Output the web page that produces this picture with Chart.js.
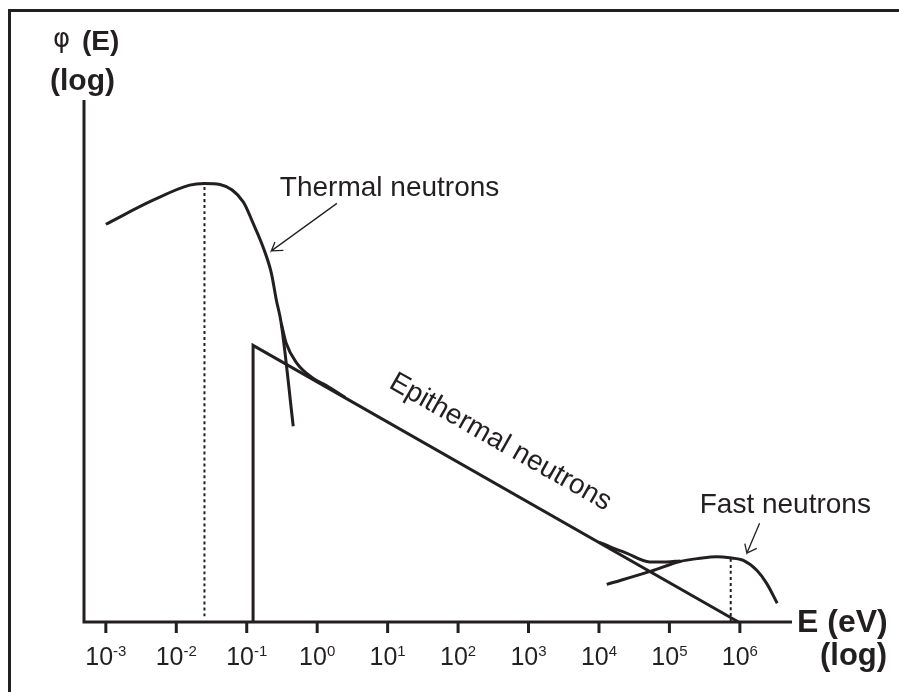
<!DOCTYPE html>
<html>
<head>
<meta charset="utf-8">
<script src="https://cdn.jsdelivr.net/npm/chart.js@4"></script>
<style>
  html, body { margin: 0; padding: 0; background: #fff; }
  canvas { display: block; }
</style>
</head>
<body>
<canvas id="spectrumChart" width="899" height="692"></canvas>
<script>
// x = log10(E / eV), y = log flux in arbitrary units (schematic)
const tickExponents = [-3, -2, -1, 0, 1, 2, 3, 4, 5, 6];

const thermalLogE = [-3.0, -2.33, -1.81, -1.60, -1.38, -1.05, -0.91, -0.77, -0.65, -0.58, -0.51, -0.34];
const thermalFlux = [7.62, 8.08, 8.37, 8.40, 8.38, 8.05, 7.64, 7.19, 6.68, 6.17, 5.72, 3.75];

const thermalJoinLogE = [-0.51, -0.44, -0.29, -0.06, 0.13, 0.40];
const thermalJoinFlux = [5.72, 5.34, 4.96, 4.67, 4.53, 4.30];

const epithermalLogE = [-0.91, -0.91, 5.98];
const epithermalFlux = [0, 5.30, 0];

const fastJoinLogE = [4.00, 4.16, 4.39, 4.72, 4.96, 5.15];
const fastJoinFlux = [1.53, 1.44, 1.32, 1.15, 1.15, 1.17];

const fastLogE = [4.11, 4.75, 5.15, 5.43, 5.67, 5.86, 6.05, 6.24, 6.38, 6.53];
const fastFlux = [0.72, 0.98, 1.16, 1.22, 1.25, 1.23, 1.18, 0.99, 0.74, 0.36];

// dotted markers at the two maxima (thermal ~0.025 eV, fast ~0.7 MeV)
const thermalPeakLogE = [-1.60, -1.60];
const thermalPeakFlux = [0.11, 8.40];
const fastPeakLogE = [5.87, 5.87];
const fastPeakFlux = [0, 1.23];

// annotation arrows: shaft start, tip, wing, tip, wing
const thermalArrowLogE = [0.28, -0.65, -0.60, -0.65, -0.48];
const thermalArrowFlux = [8.02, 7.11, 7.28, 7.11, 7.12];
const fastArrowLogE = [6.28, 6.10, 6.07, 6.10, 6.24];
const fastArrowFlux = [1.89, 1.32, 1.50, 1.32, 1.41];

const labelTexts = ['Thermal neutrons', 'Epithermal neutrons', 'Fast neutrons'];
const labelLogE = [-0.53, 1.00, 5.43];
const labelFlux = [8.16, 4.50, 2.08];

const INK = '#231f20';
const FONT = '"Liberation Sans", Arial, sans-serif';

function pts(xs, ys) {
    return xs.map((x, i) => ({ x, y: ys[i] }));
}

function curve(xs, ys, extra) {
    return Object.assign({
        data: pts(xs, ys),
        borderColor: INK,
        borderWidth: 3,
        pointRadius: 0,
        fill: false,
        tension: 0.4,
        cubicInterpolationMode: 'monotone',
        clip: false
    }, extra || {});
}

const decorPlugin = {
    id: 'decor',
    beforeDraw(chart) {
        const ctx = chart.ctx;
        ctx.save();
        ctx.fillStyle = '#fff';
        ctx.fillRect(0, 0, chart.width, chart.height);
        // frame (only top and left edges are inside the picture)
        ctx.strokeStyle = INK;
        ctx.lineWidth = 3;
        ctx.strokeRect(9.5, 10.5, 1000, 1000);
        ctx.restore();
    },
    afterDraw(chart) {
        const ctx = chart.ctx;
        const area = chart.chartArea;
        const xs = chart.scales.x;
        ctx.save();
        ctx.strokeStyle = INK;
        ctx.fillStyle = INK;
        ctx.lineWidth = 3;
        ctx.lineCap = 'butt';

        // axes
        ctx.beginPath();
        ctx.moveTo(area.left, area.top);
        ctx.lineTo(area.left, area.bottom);
        ctx.lineTo(area.right, area.bottom);
        ctx.stroke();

        // ticks and 10^n labels
        tickExponents.forEach(n => {
            const px = xs.getPixelForValue(n);
            ctx.beginPath();
            ctx.moveTo(px, area.bottom);
            ctx.lineTo(px, area.bottom + 11);
            ctx.stroke();

            ctx.font = '25px ' + FONT;
            const base = '10';
            const wBase = ctx.measureText(base).width;
            ctx.font = '15px ' + FONT;
            const exp = String(n);
            const wExp = ctx.measureText(exp).width;
            const start = px - (wBase + wExp) / 2;
            ctx.textBaseline = 'alphabetic';
            ctx.textAlign = 'left';
            ctx.font = '25px ' + FONT;
            ctx.fillText(base, start, area.bottom + 43);
            ctx.font = '15px ' + FONT;
            ctx.fillText(exp, start + wBase, area.bottom + 34);
        });

        // axis titles
        ctx.textAlign = 'left';
        ctx.font = '26px "DejaVu Sans", sans-serif';
        ctx.fillText('\u03c6', 53, 47);
        ctx.font = 'bold 28px ' + FONT;
        ctx.fillText('(E)', 82, 50);
        ctx.font = 'bold 30px ' + FONT;
        ctx.fillText('(log)', 50, 90);

        ctx.font = 'bold 32px ' + FONT;
        ctx.fillText('E (eV)', 797, 632);
        ctx.font = 'bold 31px ' + FONT;
        ctx.fillText('(log)', 820, 665);

        // region labels
        const ys = chart.scales.y;
        ctx.font = '28px ' + FONT;
        labelTexts.forEach((t, i) => {
            const px = xs.getPixelForValue(labelLogE[i]);
            const py = ys.getPixelForValue(labelFlux[i]);
            ctx.save();
            ctx.translate(px, py);
            if (i === 1) ctx.rotate(29.6 * Math.PI / 180);
            ctx.fillText(t, 0, 0);
            ctx.restore();
        });
        ctx.restore();
    }
};

new Chart(document.getElementById('spectrumChart'), {
    type: 'line',
    data: {
        datasets: [
            curve(thermalLogE, thermalFlux),
            curve(thermalJoinLogE, thermalJoinFlux),
            curve(epithermalLogE, epithermalFlux, { tension: 0, cubicInterpolationMode: 'default' }),
            curve(fastJoinLogE, fastJoinFlux),
            curve(fastLogE, fastFlux),
            curve(thermalPeakLogE, thermalPeakFlux, { borderWidth: 2, borderDash: [3, 3], tension: 0 }),
            curve(fastPeakLogE, fastPeakFlux, { borderWidth: 2, borderDash: [3, 3], tension: 0 }),
            curve(thermalArrowLogE, thermalArrowFlux, { borderWidth: 1.3, tension: 0, cubicInterpolationMode: 'default' }),
            curve(fastArrowLogE, fastArrowFlux, { borderWidth: 1.3, tension: 0, cubicInterpolationMode: 'default' })
        ]
    },
    options: {
        responsive: false,
        devicePixelRatio: 1,
        animation: false,
        layout: {
            padding: { left: 84, top: 100, right: 107, bottom: 70 }
        },
        scales: {
            x: { type: 'linear', min: -3.31, max: 6.74, display: false },
            y: { type: 'linear', min: 0, max: 10, display: false }
        },
        plugins: {
            legend: { display: false },
            tooltip: { enabled: false }
        }
    },
    plugins: [decorPlugin]
});
</script>
</body>
</html>
